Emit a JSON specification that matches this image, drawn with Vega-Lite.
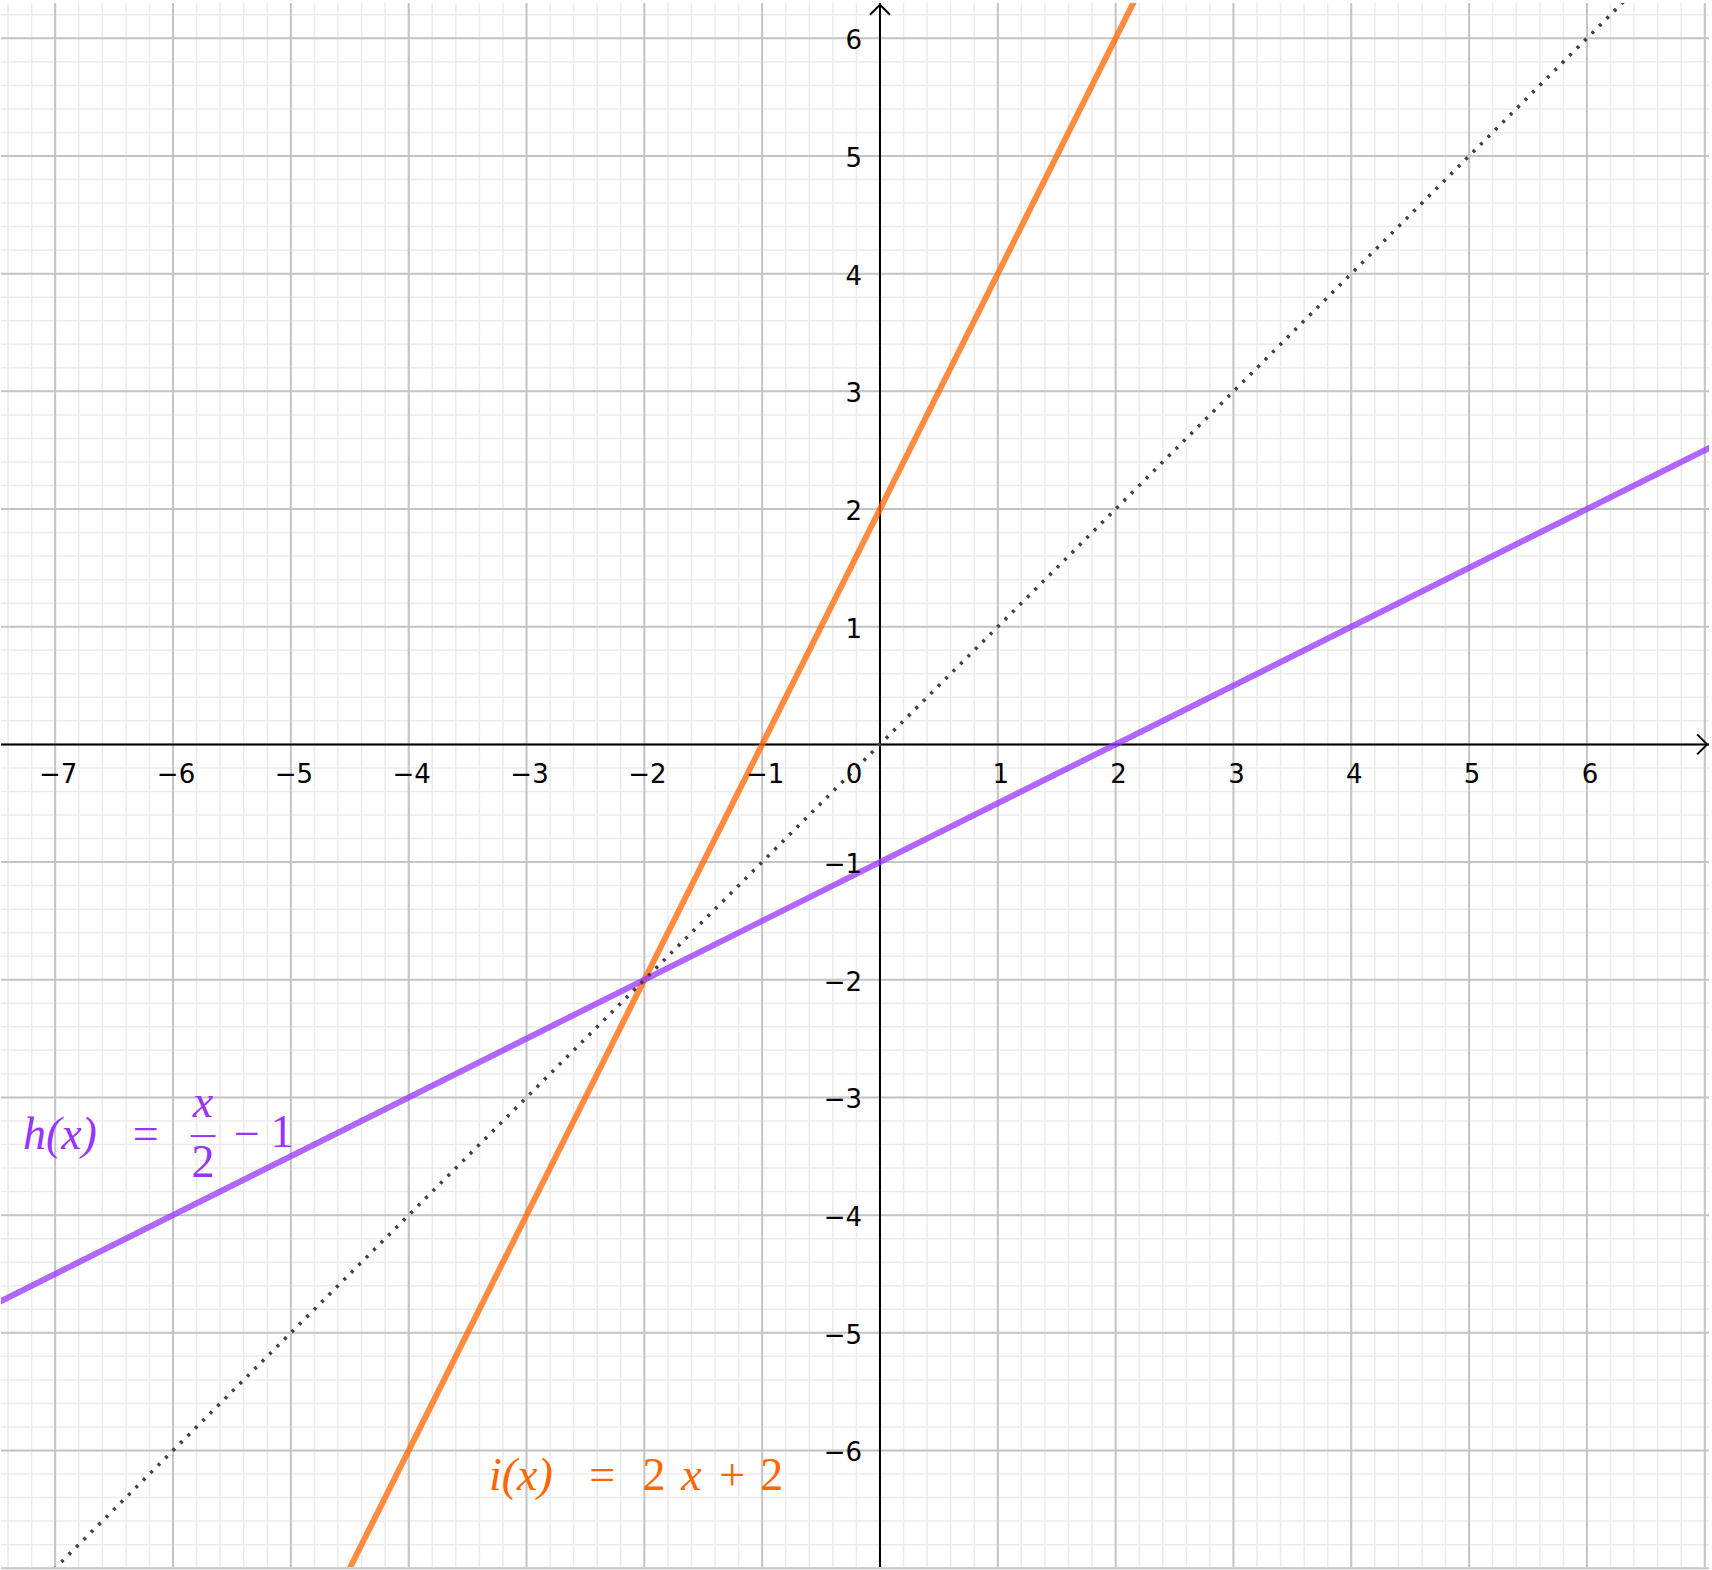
{
  "$schema": "https://vega.github.io/schema/vega-lite/v6.json",
  "width": 1712,
  "height": 1570,
  "autosize": {"type": "fit", "contains": "padding"},
  "padding": 0,
  "background": "white",
  "config": {"view": {"stroke": null}},
  "datasets": {
    "gx": [{"v":-7.4},{"v":-7.2},{"v":-7},{"v":-6.8},{"v":-6.6},{"v":-6.4},{"v":-6.2},{"v":-6},{"v":-5.8},{"v":-5.6},{"v":-5.4},{"v":-5.2},{"v":-5},{"v":-4.8},{"v":-4.6},{"v":-4.4},{"v":-4.2},{"v":-4},{"v":-3.8},{"v":-3.6},{"v":-3.4},{"v":-3.2},{"v":-3},{"v":-2.8},{"v":-2.6},{"v":-2.4},{"v":-2.2},{"v":-2},{"v":-1.8},{"v":-1.6},{"v":-1.4},{"v":-1.2},{"v":-1},{"v":-0.8},{"v":-0.6},{"v":-0.4},{"v":-0.2},{"v":0},{"v":0.2},{"v":0.4},{"v":0.6},{"v":0.8},{"v":1},{"v":1.2},{"v":1.4},{"v":1.6},{"v":1.8},{"v":2},{"v":2.2},{"v":2.4},{"v":2.6},{"v":2.8},{"v":3},{"v":3.2},{"v":3.4},{"v":3.6},{"v":3.8},{"v":4},{"v":4.2},{"v":4.4},{"v":4.6},{"v":4.8},{"v":5},{"v":5.2},{"v":5.4},{"v":5.6},{"v":5.8},{"v":6},{"v":6.2},{"v":6.4},{"v":6.6},{"v":6.8},{"v":7}],
    "gy": [{"v":-7},{"v":-6.8},{"v":-6.6},{"v":-6.4},{"v":-6.2},{"v":-6},{"v":-5.8},{"v":-5.6},{"v":-5.4},{"v":-5.2},{"v":-5},{"v":-4.8},{"v":-4.6},{"v":-4.4},{"v":-4.2},{"v":-4},{"v":-3.8},{"v":-3.6},{"v":-3.4},{"v":-3.2},{"v":-3},{"v":-2.8},{"v":-2.6},{"v":-2.4},{"v":-2.2},{"v":-2},{"v":-1.8},{"v":-1.6},{"v":-1.4},{"v":-1.2},{"v":-1},{"v":-0.8},{"v":-0.6},{"v":-0.4},{"v":-0.2},{"v":0},{"v":0.2},{"v":0.4},{"v":0.6},{"v":0.8},{"v":1},{"v":1.2},{"v":1.4},{"v":1.6},{"v":1.8},{"v":2},{"v":2.2},{"v":2.4},{"v":2.6},{"v":2.8},{"v":3},{"v":3.2},{"v":3.4},{"v":3.6},{"v":3.8},{"v":4},{"v":4.2},{"v":4.4},{"v":4.6},{"v":4.8},{"v":5},{"v":5.2},{"v":5.4},{"v":5.6},{"v":5.8},{"v":6},{"v":6.2}],
    "lines": [
      {"fn":"i","x":-4.6,"y":-7.2},{"fn":"i","x":2.3,"y":6.6},
      {"fn":"h","x":-7.6,"y":-4.8},{"fn":"h","x":7.2,"y":2.6}
    ],
    "identity": [{"x":-7.2,"y":-7.2},{"x":6.5,"y":6.5}],
    "axes": [{"origin": 0}],
    "xticks": [{"v":-7,"label":"−7"},{"v":-6,"label":"−6"},{"v":-5,"label":"−5"},{"v":-4,"label":"−4"},{"v":-3,"label":"−3"},{"v":-2,"label":"−2"},{"v":-1,"label":"−1"},{"v":1,"label":"1"},{"v":2,"label":"2"},{"v":3,"label":"3"},{"v":4,"label":"4"},{"v":5,"label":"5"},{"v":6,"label":"6"}],
    "yticks": [{"v":-6,"label":"−6"},{"v":-5,"label":"−5"},{"v":-4,"label":"−4"},{"v":-3,"label":"−3"},{"v":-2,"label":"−2"},{"v":-1,"label":"−1"},{"v":1,"label":"1"},{"v":2,"label":"2"},{"v":3,"label":"3"},{"v":4,"label":"4"},{"v":5,"label":"5"},{"v":6,"label":"6"}],
    "formulaItalic": [
      {"fn":"h","t":"h(x)","x":-6.96,"y":-3.438},
      {"fn":"h","t":"x","x":-5.745,"y":-3.167},
      {"fn":"i","t":"i(x)","x":-3.048,"y":-6.334},
      {"fn":"i","t":"x","x":-1.6,"y":-6.334}
    ],
    "formulaUpright": [
      {"fn":"h","t":"=","x":-6.232,"y":-3.438},
      {"fn":"h","t":"2","x":-5.745,"y":-3.675},
      {"fn":"h","t":"−","x":-5.372,"y":-3.438},
      {"fn":"h","t":"1","x":-5.076,"y":-3.421},
      {"fn":"i","t":"=","x":-2.358,"y":-6.334},
      {"fn":"i","t":"2","x":-1.918,"y":-6.334},
      {"fn":"i","t":"+","x":-1.253,"y":-6.334},
      {"fn":"i","t":"2","x":-0.919,"y":-6.334}
    ],
    "fracbar": [{"fn":"h","x":-5.851,"x2":-5.639,"y":-3.328}]
  },
  "layer": [
    {
      "data": {"name": "gx"},
      "mark": {"type": "rule", "stroke": "#ebebeb", "strokeWidth": 1.5},
      "encoding": {"x": {"field": "v", "type": "quantitative", "scale": {"domain": [-7.46, 7.036], "nice": false, "zero": false}, "axis": null}}
    },
    {
      "data": {"name": "gy"},
      "mark": {"type": "rule", "stroke": "#ebebeb", "strokeWidth": 1.5},
      "encoding": {"y": {"field": "v", "type": "quantitative", "scale": {"domain": [-6.99, 6.30], "nice": false, "zero": false}, "axis": null}}
    },
    {
      "data": {"name": "gx"},
      "transform": [{"filter": "abs(datum.v - round(datum.v)) < 0.001"}],
      "mark": {"type": "rule", "stroke": "#c4c4c4", "strokeWidth": 2},
      "encoding": {"x": {"field": "v", "type": "quantitative", "scale": {"domain": [-7.46, 7.036], "nice": false, "zero": false}, "axis": null}}
    },
    {
      "data": {"name": "gy"},
      "transform": [{"filter": "abs(datum.v - round(datum.v)) < 0.001"}],
      "mark": {"type": "rule", "stroke": "#c4c4c4", "strokeWidth": 2},
      "encoding": {"y": {"field": "v", "type": "quantitative", "scale": {"domain": [-6.99, 6.30], "nice": false, "zero": false}, "axis": null}}
    },
    {
      "data": {"name": "axes"},
      "mark": {"type": "rule", "stroke": "black", "strokeWidth": 2},
      "encoding": {"y": {"field": "origin", "type": "quantitative", "scale": {"domain": [-6.99, 6.30], "nice": false, "zero": false}, "axis": null}}
    },
    {
      "data": {"name": "axes"},
      "mark": {"type": "rule", "stroke": "black", "strokeWidth": 2},
      "encoding": {"x": {"field": "origin", "type": "quantitative", "scale": {"domain": [-7.46, 7.036], "nice": false, "zero": false}, "axis": null}}
    },
    {
      "data": {"name": "lines"},
      "mark": {"type": "line", "strokeWidth": 6, "opacity": 0.75, "clip": true},
      "encoding": {
        "x": {"field": "x", "type": "quantitative", "scale": {"domain": [-7.46, 7.036], "nice": false, "zero": false}, "axis": null},
        "y": {"field": "y", "type": "quantitative", "scale": {"domain": [-6.99, 6.30], "nice": false, "zero": false}, "axis": null},
        "stroke": {"field": "fn", "type": "nominal", "scale": {"domain": ["h", "i"], "range": ["#9933ff", "#ff6600"]}, "legend": null},
        "order": {"field": "x", "type": "quantitative"}
      }
    },
    {
      "data": {"name": "identity"},
      "mark": {"type": "line", "strokeWidth": 3.5, "stroke": "#404040", "strokeDash": [3, 7.5], "clip": true},
      "encoding": {
        "x": {"field": "x", "type": "quantitative", "scale": {"domain": [-7.46, 7.036], "nice": false, "zero": false}, "axis": null},
        "y": {"field": "y", "type": "quantitative", "scale": {"domain": [-6.99, 6.30], "nice": false, "zero": false}, "axis": null}
      }
    },
    {
      "data": {"name": "xticks"},
      "mark": {"type": "text", "font": "DejaVu Sans", "fontSize": 26, "align": "center", "baseline": "middle", "dx": 3, "dy": 31, "fill": "black"},
      "encoding": {
        "x": {"field": "v", "type": "quantitative", "scale": {"domain": [-7.46, 7.036], "nice": false, "zero": false}, "axis": null},
        "y": {"datum": 0, "type": "quantitative", "scale": {"domain": [-6.99, 6.30], "nice": false, "zero": false}, "axis": null},
        "text": {"field": "label"}
      }
    },
    {
      "data": {"name": "yticks"},
      "mark": {"type": "text", "font": "DejaVu Sans", "fontSize": 26, "align": "right", "baseline": "middle", "dx": -18, "dy": 3, "fill": "black"},
      "encoding": {
        "x": {"datum": 0, "type": "quantitative", "scale": {"domain": [-7.46, 7.036], "nice": false, "zero": false}, "axis": null},
        "y": {"field": "v", "type": "quantitative", "scale": {"domain": [-6.99, 6.30], "nice": false, "zero": false}, "axis": null},
        "text": {"field": "label"}
      }
    },
    {
      "data": {"values": [{"label": "0"}]},
      "mark": {"type": "text", "font": "DejaVu Sans", "fontSize": 26, "align": "center", "baseline": "middle", "dx": -26, "dy": 31, "fill": "black"},
      "encoding": {
        "x": {"datum": 0, "type": "quantitative", "scale": {"domain": [-7.46, 7.036], "nice": false, "zero": false}, "axis": null},
        "y": {"datum": 0, "type": "quantitative", "scale": {"domain": [-6.99, 6.30], "nice": false, "zero": false}, "axis": null},
        "text": {"field": "label"}
      }
    },
    {
      "data": {"name": "formulaItalic"},
      "mark": {"type": "text", "font": "Liberation Serif", "fontStyle": "italic", "fontSize": 46, "align": "center", "baseline": "alphabetic"},
      "encoding": {
        "x": {"field": "x", "type": "quantitative", "scale": {"domain": [-7.46, 7.036], "nice": false, "zero": false}, "axis": null},
        "y": {"field": "y", "type": "quantitative", "scale": {"domain": [-6.99, 6.30], "nice": false, "zero": false}, "axis": null},
        "text": {"field": "t"},
        "fill": {"field": "fn", "type": "nominal", "scale": {"domain": ["h", "i"], "range": ["#9933ff", "#ff6600"]}, "legend": null}
      }
    },
    {
      "data": {"name": "formulaUpright"},
      "mark": {"type": "text", "font": "Liberation Serif", "fontSize": 46, "align": "center", "baseline": "alphabetic"},
      "encoding": {
        "x": {"field": "x", "type": "quantitative", "scale": {"domain": [-7.46, 7.036], "nice": false, "zero": false}, "axis": null},
        "y": {"field": "y", "type": "quantitative", "scale": {"domain": [-6.99, 6.30], "nice": false, "zero": false}, "axis": null},
        "text": {"field": "t"},
        "fill": {"field": "fn", "type": "nominal", "scale": {"domain": ["h", "i"], "range": ["#9933ff", "#ff6600"]}, "legend": null}
      }
    },
    {
      "data": {"name": "fracbar"},
      "mark": {"type": "rule", "strokeWidth": 2},
      "encoding": {
        "x": {"field": "x", "type": "quantitative", "scale": {"domain": [-7.46, 7.036], "nice": false, "zero": false}, "axis": null},
        "x2": {"field": "x2"},
        "y": {"field": "y", "type": "quantitative", "scale": {"domain": [-6.99, 6.30], "nice": false, "zero": false}, "axis": null},
        "stroke": {"field": "fn", "type": "nominal", "scale": {"domain": ["h", "i"], "range": ["#9933ff", "#ff6600"]}, "legend": null}
      }
    },
    {
      "data": {"values": [{"x": 7.02, "y": 0}]},
      "mark": {"type": "point", "shape": "M-1,-1L0,0L-1,1", "size": 400, "filled": false, "stroke": "black", "strokeWidth": 2, "opacity": 1},
      "encoding": {
        "x": {"field": "x", "type": "quantitative", "scale": {"domain": [-7.46, 7.036], "nice": false, "zero": false}, "axis": null},
        "y": {"field": "y", "type": "quantitative", "scale": {"domain": [-6.99, 6.30], "nice": false, "zero": false}, "axis": null}
      }
    },
    {
      "data": {"values": [{"x": 0, "y": 6.285}]},
      "mark": {"type": "point", "shape": "M-1,1L0,0L1,1", "size": 400, "filled": false, "stroke": "black", "strokeWidth": 2, "opacity": 1},
      "encoding": {
        "x": {"field": "x", "type": "quantitative", "scale": {"domain": [-7.46, 7.036], "nice": false, "zero": false}, "axis": null},
        "y": {"field": "y", "type": "quantitative", "scale": {"domain": [-6.99, 6.30], "nice": false, "zero": false}, "axis": null}
      }
    }
  ]
}
